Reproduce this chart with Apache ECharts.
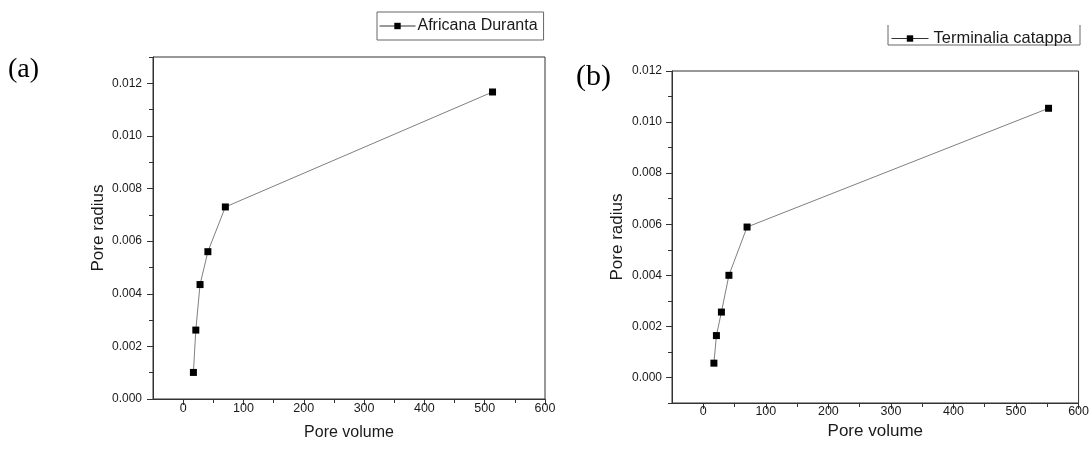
<!DOCTYPE html>
<html>
<head>
<meta charset="utf-8">
<script src="https://cdn.jsdelivr.net/npm/echarts@6/dist/echarts.min.js"></script>
<style>
html, body { margin: 0; padding: 0; background: #fff; }
#main { width: 1092px; height: 453px; }
</style>
</head>
<body>
<div id="main"></div>
<script>
// data
var volumeA = [17, 21, 28, 41, 70, 513],
    radiusA = [0.00101, 0.00262, 0.00435, 0.0056, 0.0073, 0.01167],
    volumeB = [17, 21, 29, 41, 70, 552],
    radiusB = [0.00056, 0.00164, 0.00256, 0.004, 0.00589, 0.01054],
    xTicks = [0, 100, 200, 300, 400, 500, 600],
    xMinor = [50, 150, 250, 350, 450, 550],
    yTicks = [0, 0.002, 0.004, 0.006, 0.008, 0.01, 0.012],
    yMinorA = [0.001, 0.003, 0.005, 0.007, 0.009, 0.011, 0.013],
    yMinorB = [-0.001, 0.001, 0.003, 0.005, 0.007, 0.009, 0.011];

var font = 'Liberation Sans, Arial, sans-serif',
    axisColor = '#333',
    textColor = '#1a1a1a';

function pairs(xs, ys) {
    return xs.map(function (x, i) { return [x, ys[i]]; });
}

function mainX(grid, nameGap, nameSize, labelMargin) {
    return {
        type: 'value', gridIndex: grid, min: -50, max: 600, position: 'bottom',
        name: 'Pore volume', nameLocation: 'middle', nameGap: nameGap,
        nameTextStyle: { fontFamily: font, fontSize: nameSize, color: textColor },
        axisLine: { onZero: false, lineStyle: { color: axisColor, width: 1 } },
        axisTick: { show: false },
        axisLabel: { customValues: xTicks, margin: labelMargin, fontFamily: font, fontSize: 12.5, color: textColor },
        splitLine: { show: false }
    };
}

function tickX(grid, vals, len) {
    return {
        type: 'value', gridIndex: grid, min: -50, max: 600, position: 'bottom',
        axisLine: { show: false, onZero: false },
        axisTick: { show: true, customValues: vals, length: len, lineStyle: { color: axisColor } },
        axisLabel: { show: false },
        splitLine: { show: false }
    };
}

function mainY(grid, min, max, nameSize, labelMargin) {
    return {
        type: 'value', gridIndex: grid, min: min, max: max, position: 'left',
        name: 'Pore radius', nameLocation: 'middle', nameGap: 46,
        nameTextStyle: { fontFamily: font, fontSize: nameSize, color: textColor },
        axisLine: { onZero: false, lineStyle: { color: axisColor, width: 1 } },
        axisTick: { show: false },
        axisLabel: {
            customValues: yTicks, margin: labelMargin, fontFamily: font, fontSize: 12, color: textColor,
            formatter: function (v) { return v.toFixed(3); }
        },
        splitLine: { show: false }
    };
}

function tickY(grid, min, max, vals, len) {
    return {
        type: 'value', gridIndex: grid, min: min, max: max, position: 'left',
        axisLine: { show: false, onZero: false },
        axisTick: { show: true, customValues: vals, length: len, lineStyle: { color: axisColor } },
        axisLabel: { show: false },
        splitLine: { show: false }
    };
}

function lineSeries(name, idx, data) {
    return {
        name: name, type: 'line', xAxisIndex: idx * 3, yAxisIndex: idx * 3,
        data: data, symbol: 'rect', symbolSize: 7,
        itemStyle: { color: '#000' },
        lineStyle: { color: '#808080', width: 1 },
        animation: false
    };
}

var chart = echarts.init(document.getElementById('main'));
chart.setOption({
    backgroundColor: '#fff',
    animation: false,
    grid: [
        { left: 153, top: 57, width: 392, height: 342, show: true, borderColor: axisColor, borderWidth: 1 },
        { left: 672, top: 71, width: 409, height: 332, show: true, borderColor: axisColor, borderWidth: 1 }
    ],
    legend: [
        {
            data: ['Africana Duranta'], left: 377, top: 12,
            itemWidth: 36, itemHeight: 8, itemGap: 0, padding: [6, 6, 6, 2],
            borderColor: '#666', borderWidth: 1,
            lineStyle: { color: '#333', width: 1 },
            textStyle: { fontFamily: font, fontSize: 16, color: textColor, padding: [0, 0, 0, -3] }
        },
        {
            data: ['Terminalia catappa'], left: 889, top: 24,
            itemWidth: 37, itemHeight: 8, padding: [6, 4, 6, 2],
            lineStyle: { color: '#333', width: 1 },
            textStyle: { fontFamily: font, fontSize: 16.5, color: textColor }
        }
    ],
    xAxis: [
        mainX(0, 26, 16, 3), tickX(0, xTicks, 6), tickX(0, xMinor, 4),
        mainX(1, 17, 17, 2), tickX(1, xTicks, 6), tickX(1, xMinor, 4)
    ],
    yAxis: [
        mainY(0, 0, 0.013, 17, 11), tickY(0, 0, 0.013, yTicks, 6), tickY(0, 0, 0.013, yMinorA, 4),
        mainY(1, -0.001, 0.012, 17, 10), tickY(1, -0.001, 0.012, yTicks, 6), tickY(1, -0.001, 0.012, yMinorB, 4)
    ],
    series: [
        lineSeries('Africana Duranta', 0, pairs(volumeA, radiusA)),
        lineSeries('Terminalia catappa', 1, pairs(volumeB, radiusB))
    ],
    graphic: [
        { type: 'text', left: 8, top: 56, style: { text: '(a)', font: '28px "Liberation Serif", serif', fill: '#000' } },
        { type: 'text', left: 576, top: 62, style: { text: '(b)', font: '30px "Liberation Serif", serif', fill: '#000' } },
        {
            type: 'polyline',
            shape: { points: [[888, 25], [888, 45], [1080, 45], [1080, 25]] },
            style: { stroke: '#666', lineWidth: 1, fill: null }
        }
    ]
});
</script>
</body>
</html>
